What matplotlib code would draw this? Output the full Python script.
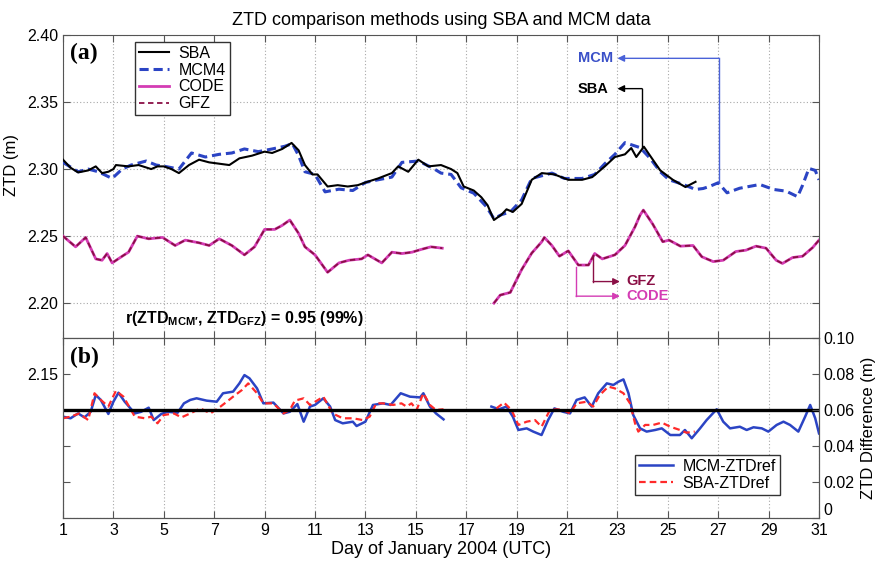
import numpy as np
import matplotlib
matplotlib.use("Agg")
import matplotlib.pyplot as plt

plt.rcParams['font.family'] = ['Liberation Sans', 'DejaVu Sans']
plt.rcParams['mathtext.fontset'] = 'custom'
plt.rcParams['mathtext.rm'] = 'Liberation Sans'
plt.rcParams['mathtext.bf'] = 'Liberation Sans:bold'

nan = np.nan

# ---------------- data ----------------
sba = [(1.0, 2.307), (1.3, 2.301), (1.6, 2.2975), (2.0, 2.299), (2.3, 2.302), (2.55, 2.297),
       (2.8, 2.298), (3.0, 2.300), (3.1, 2.303), (3.6, 2.302), (4.0, 2.303), (4.5, 2.300),
       (4.75, 2.302), (5.0, 2.302), (5.3, 2.300), (5.6, 2.297), (6.0, 2.303), (6.4, 2.307),
       (6.8, 2.305), (7.2, 2.304), (7.6, 2.303), (8.0, 2.308), (8.5, 2.310), (9.0, 2.313),
       (9.3, 2.312), (9.7, 2.315), (10.07, 2.3195), (10.35, 2.314), (10.6, 2.303), (10.9, 2.296),
       (11.1, 2.296), (11.5, 2.287), (11.9, 2.288), (12.3, 2.287), (12.7, 2.288), (13.0, 2.290),
       (13.5, 2.293), (14.05, 2.297), (14.3, 2.302), (14.7, 2.298), (15.1, 2.307), (15.5, 2.302),
       (16.0, 2.303), (16.4, 2.300), (16.65, 2.297), (16.9, 2.287), (17.3, 2.284), (17.6, 2.279),
       (17.85, 2.273), (18.1, 2.262), (18.4, 2.266), (18.6, 2.270), (18.85, 2.268), (19.2, 2.274),
       (19.6, 2.292), (20.0, 2.297), (20.5, 2.296), (21.05, 2.292), (21.6, 2.292), (22.0, 2.294),
       (22.5, 2.302), (22.9, 2.309), (23.3, 2.311), (23.55, 2.3157), (23.75, 2.309), (24.05, 2.3167),
       (24.7, 2.299), (25.2, 2.292), (25.7, 2.2866), (26.1, 2.2905)]

mcm4 = [(1.0, 2.305), (1.6, 2.298), (2.0, 2.300), (2.4, 2.298), (2.95, 2.293), (3.35, 2.300),
        (3.7, 2.303), (4.3, 2.306), (4.7, 2.303), (5.05, 2.302), (5.6, 2.300), (6.1, 2.312),
        (6.65, 2.309), (7.2, 2.311), (7.7, 2.312), (8.2, 2.315), (8.75, 2.313), (9.3, 2.315),
        (9.8, 2.317), (10.1, 2.319), (10.35, 2.310), (10.6, 2.298), (11.0, 2.296), (11.4, 2.283),
        (11.95, 2.285), (12.5, 2.284), (13.0, 2.290), (13.5, 2.292), (14.05, 2.294), (14.45, 2.305),
        (15.1, 2.306), (15.65, 2.301), (16.0, 2.297), (16.4, 2.296), (16.8, 2.286), (17.3, 2.282),
        (17.8, 2.272), (18.1, 2.263), (18.4, 2.266), (18.75, 2.268), (19.2, 2.277), (19.6, 2.293),
        (20.0, 2.295), (20.4, 2.297), (20.9, 2.293), (21.6, 2.293), (22.1, 2.296), (22.5, 2.304),
        (22.9, 2.311), (23.3, 2.3197), (23.9, 2.316), (24.3, 2.308), (24.7, 2.298), (25.05, 2.292),
        (25.6, 2.2886), (26.1, 2.2848), (26.4, 2.2855), (26.65, 2.287), (27.0, 2.2898), (27.35, 2.2823),
        (27.85, 2.2857), (28.65, 2.2885), (29.2, 2.2848), (29.7, 2.2835), (30.15, 2.2794),
        (30.35, 2.288), (30.6, 2.3005), (30.85, 2.299), (31.0, 2.292)]

gfz = [(1.0, 2.250), (1.5, 2.242), (1.9, 2.249), (2.3, 2.233), (2.55, 2.232), (2.75, 2.237),
       (2.95, 2.230), (3.35, 2.235), (3.6, 2.238), (3.95, 2.250), (4.4, 2.248), (4.95, 2.249),
       (5.45, 2.243), (5.85, 2.247), (6.4, 2.245), (6.8, 2.243), (7.2, 2.248), (7.7, 2.243),
       (8.2, 2.236), (8.6, 2.242), (9.0, 2.255), (9.4, 2.255), (9.7, 2.258), (10.0, 2.262),
       (10.35, 2.252), (10.6, 2.242), (11.0, 2.236), (11.5, 2.223), (11.95, 2.230), (12.35, 2.232),
       (12.85, 2.233), (13.1, 2.236), (13.65, 2.230), (14.05, 2.238), (14.45, 2.237), (14.85, 2.238),
       (15.2, 2.240), (15.6, 2.242), (16.05, 2.241), (17.0, nan),
       (18.1, 2.200), (18.35, 2.206), (18.75, 2.208), (19.2, 2.225), (19.6, 2.2373), (20.0, 2.2458),
       (20.1, 2.249), (20.4, 2.243), (20.7, 2.235), (21.05, 2.239), (21.45, 2.2284), (21.85, 2.2284),
       (22.1, 2.237), (22.4, 2.233), (22.9, 2.236), (23.3, 2.243), (23.7, 2.257), (23.9, 2.2657),
       (24.03, 2.2694), (24.4, 2.259), (24.8, 2.2458), (25.05, 2.247), (25.5, 2.2425), (26.0, 2.243),
       (26.35, 2.2346), (26.8, 2.231), (27.2, 2.232), (27.7, 2.2385), (28.1, 2.2395), (28.5, 2.2425),
       (28.9, 2.241), (29.3, 2.232), (29.55, 2.2296), (29.95, 2.234), (30.35, 2.235), (30.75, 2.2415),
       (31.0, 2.247)]

code = [(1.0, 2.250), (1.5, 2.242), (1.9, 2.249), (2.3, 2.233), (2.55, 2.232), (2.75, 2.237),
        (2.95, 2.230), (3.35, 2.235), (3.6, 2.238), (3.95, 2.250), (4.4, 2.248), (4.95, 2.249),
        (5.45, 2.243), (5.85, 2.247), (6.4, 2.245), (6.8, 2.243), (7.2, 2.248), (7.7, 2.243),
        (8.2, 2.236), (8.6, 2.242), (9.0, 2.255), (9.4, 2.255), (9.7, 2.258), (10.0, 2.262),
        (10.35, 2.252), (10.6, 2.242), (11.0, 2.236), (11.5, 2.223), (11.95, 2.230), (12.35, 2.232),
        (12.85, 2.233), (13.1, 2.236), (13.65, 2.230), (14.05, 2.238), (14.45, 2.237), (14.85, 2.238),
        (15.2, 2.240), (15.6, 2.242), (16.05, 2.241), (17.0, nan),
        (18.1, 2.200), (18.35, 2.206), (18.75, 2.208), (19.2, 2.225), (19.6, 2.2373), (20.0, 2.2458),
        (20.1, 2.249), (20.4, 2.243), (20.7, 2.235), (21.05, 2.239), (21.45, 2.2284), (21.85, 2.2284),
        (22.1, 2.237), (22.4, 2.233), (22.9, 2.236), (23.3, 2.243), (23.7, 2.257), (23.9, 2.2657),
        (24.03, 2.2694), (24.4, 2.259), (24.8, 2.2458), (25.05, 2.247), (25.5, 2.2425), (26.0, 2.243),
        (26.35, 2.2346), (26.8, 2.231), (27.2, 2.232), (27.7, 2.2385), (28.1, 2.2395), (28.5, 2.2425),
        (28.9, 2.241), (29.3, 2.232), (29.55, 2.2296), (29.95, 2.234), (30.35, 2.235), (30.75, 2.2415),
        (31.0, 2.247)]

mcm_diff = [(1.0, 0.0563), (1.3, 0.0554), (1.6, 0.0581), (1.85, 0.0559), (2.1, 0.059), (2.3, 0.0683),
            (2.5, 0.0656), (2.8, 0.0578), (3.0, 0.0646), (3.2, 0.0696), (3.45, 0.0646), (3.85, 0.0581),
            (4.1, 0.059), (4.4, 0.0613), (4.6, 0.0544), (4.9, 0.0578), (5.15, 0.059), (5.55, 0.0585),
            (5.8, 0.0637), (6.05, 0.0656), (6.3, 0.0665), (6.7, 0.0652), (7.1, 0.0646), (7.35, 0.0693),
            (7.75, 0.0702), (8.0, 0.0748), (8.2, 0.0794), (8.4, 0.0776), (8.7, 0.072), (8.95, 0.0637),
            (9.35, 0.0641), (9.75, 0.0581), (10.0, 0.059), (10.3, 0.0633), (10.55, 0.0535), (10.8, 0.0619),
            (11.0, 0.0628), (11.33, 0.0665), (11.6, 0.0619), (11.8, 0.0544), (12.1, 0.0526), (12.5, 0.0535),
            (12.65, 0.0511), (13.0, 0.0535), (13.3, 0.0628), (13.7, 0.0637), (14.0, 0.0628), (14.4, 0.0693),
            (14.77, 0.0674), (15.17, 0.067), (15.3, 0.0693), (15.56, 0.0619), (15.8, 0.0581), (16.1, 0.0548),
            (17.0, nan),
            (18.0, 0.0619), (18.3, 0.0604), (18.6, 0.0619), (18.85, 0.0563), (19.07, 0.0489), (19.4, 0.0498),
            (19.66, 0.048), (19.99, 0.0461), (20.25, 0.0544), (20.5, 0.0609), (20.85, 0.059), (21.12, 0.0581),
            (21.38, 0.0656), (21.7, 0.067), (21.98, 0.0619), (22.24, 0.0693), (22.58, 0.0748), (22.84, 0.0739),
            (23.04, 0.0757), (23.24, 0.077), (23.44, 0.0693), (23.63, 0.0572), (23.9, 0.0498), (24.16, 0.048),
            (24.5, 0.0489), (24.76, 0.0498), (25.1, 0.0461), (25.48, 0.0461), (25.68, 0.0489), (25.95, 0.0443),
            (26.28, 0.0498), (26.54, 0.0544), (26.94, 0.0604), (27.2, 0.0535), (27.47, 0.0498), (27.86, 0.0507),
            (28.13, 0.0489), (28.4, 0.0504), (28.73, 0.0498), (28.99, 0.048), (29.32, 0.0517), (29.59, 0.0535),
            (29.85, 0.0517), (30.18, 0.048), (30.45, 0.0563), (30.65, 0.0628), (30.85, 0.0554), (31.0, 0.047)]

sba_diff = [(1.0, 0.0554), (1.3, 0.0563), (1.65, 0.0581), (2.0, 0.0544), (2.25, 0.0693), (2.5, 0.0656),
            (2.8, 0.0619), (3.1, 0.0707), (3.4, 0.0674), (3.85, 0.0563), (4.25, 0.0554), (4.5, 0.0563),
            (4.75, 0.0526), (5.0, 0.0572), (5.4, 0.0581), (5.7, 0.0559), (6.05, 0.0581), (6.45, 0.0609),
            (6.85, 0.0581), (7.25, 0.0619), (7.5, 0.0646), (7.75, 0.0674), (8.1, 0.0711), (8.35, 0.0748),
            (8.7, 0.0693), (8.95, 0.0637), (9.35, 0.0637), (9.75, 0.0581), (10.0, 0.06), (10.2, 0.0652),
            (10.55, 0.0665), (10.8, 0.0628), (11.33, 0.0674), (11.7, 0.0581), (12.1, 0.0554), (12.5, 0.0554),
            (12.9, 0.0544), (13.17, 0.0563), (13.43, 0.0637), (13.7, 0.0637), (14.1, 0.0628), (14.43, 0.0637),
            (14.63, 0.0619), (14.83, 0.0637), (15.03, 0.06), (15.3, 0.0693), (15.56, 0.0628), (15.8, 0.06),
            (16.1, 0.0604), (17.0, nan),
            (18.2, 0.0609), (18.5, 0.0641), (18.8, 0.06), (19.07, 0.0517), (19.4, 0.0535), (19.73, 0.0544),
            (19.99, 0.0507), (20.32, 0.06), (20.58, 0.0604), (20.85, 0.06), (21.12, 0.0581), (21.38, 0.0637),
            (21.78, 0.0646), (22.04, 0.0619), (22.3, 0.0683), (22.64, 0.073), (22.9, 0.072), (23.24, 0.0693),
            (23.5, 0.0637), (23.7, 0.0526), (23.83, 0.048), (24.1, 0.0517), (24.42, 0.0517), (24.76, 0.053),
            (25.1, 0.0507), (25.48, 0.0489), (25.74, 0.0474), (26.07, 0.048)]

mean_diff = 0.06
x_ticks = list(range(1, 32, 2))
top_yticks = [2.20, 2.25, 2.30, 2.35, 2.40]
bot_right_ticks = [0, 0.02, 0.04, 0.06, 0.08, 0.10]
bot_right_labels = ['0', '0.02', '0.04', '0.06', '0.08', '0.10']
bot_left_ticks = [0.02, 0.04, 0.08]
bot_left_labels = ['', '', '2.15']


def xy(pairs):
    a = np.array(pairs, dtype=float)
    return a[:, 0], a[:, 1]


# ---------------- figure ----------------
fig = plt.figure(figsize=(8.79, 5.63), dpi=100)
L, W = 63 / 879, 756 / 879
ax = fig.add_axes([L, 1 - 338 / 563, W, 303 / 563])
axb = fig.add_axes([L, 1 - 518 / 563, W, 180 / 563])

spine_col = '#555555'
grid_kw = dict(color='#a8a8a8', linestyle=(0, (1, 2)), linewidth=0.8)
TS = 11.5
LS = 13

C_BLUE = '#2b44c4'
C_MAG = '#d43cb4'
C_GFZ = '#8a0f45'

# top panel
x, y = xy(code)
ax.plot(x, y, color=C_MAG, lw=2.0, label='CODE', zorder=3)
x, y = xy(gfz)
ax.plot(x, y, color=C_GFZ, lw=1.3, ls=(0, (3, 2)), label='GFZ', zorder=4)
x, y = xy(mcm4)
ax.plot(x, y, color=C_BLUE, lw=2.2, ls=(0, (3, 1.6)), label='MCM4', zorder=5)
x, y = xy(sba)
ax.plot(x, y, color='black', lw=1.5, label='SBA', zorder=6)

ax.set_xlim(1, 31)
ax.set_ylim(2.174, 2.40)
ax.set_xticks(x_ticks)
ax.set_xticklabels([])
ax.set_yticks(top_yticks)
ax.set_yticklabels([f'{v:.2f}' for v in top_yticks], fontsize=TS)
ax.grid(True, **grid_kw)
ax.tick_params(direction='in', top=True, right=True, length=5, color=spine_col)
for s in ax.spines.values():
    s.set_color(spine_col)
ax.set_ylabel('ZTD (m)', fontsize=12)
ax.yaxis.set_label_coords(-0.058, 0.57)
ax.set_title('ZTD comparison methods using SBA and MCM data', fontsize=LS, pad=7)

h, l = ax.get_legend_handles_labels()
order = [3, 2, 0, 1]
leg = ax.legend([h[i] for i in order], [l[i] for i in order], loc='upper left',
                bbox_to_anchor=(0.095, 0.978), fontsize=11.5, frameon=True, fancybox=False,
                edgecolor='#333333', framealpha=1, handlelength=1.9, borderpad=0.25,
                labelspacing=0.12, handletextpad=0.6, borderaxespad=0)
leg.get_frame().set_linewidth(1.0)

ax.text(0.009, 0.94, '(a)', transform=ax.transAxes, fontsize=17, fontweight='bold',
        family='Liberation Serif', va='center', ha='left')
ax.text(8.2, 2.1885, r'r(ZTD$_{\mathbf{MCM\prime}}$, ZTD$_{\mathbf{GFZ}}$) = 0.95 (99%)',
        fontsize=11.5, fontweight='bold', ha='center', va='center')


# annotations (top panel)
def elbow(ax, xs, ys, head, color, lw=1.0):
    ax.plot(xs, ys, color=color, lw=lw, zorder=7)
    ax.annotate('', xy=head, xytext=(xs[-1], ys[-1]),
                arrowprops=dict(arrowstyle='-|>', color=color, lw=lw,
                                mutation_scale=10, shrinkA=0, shrinkB=0), zorder=7)


elbow(ax, [27.03, 27.03], [2.2898, 2.3826], (23.0, 2.3826), '#4a62d8')
ax.text(22.85, 2.3826, 'MCM', color='#3a50c8', fontsize=10.5, fontweight='bold', ha='right', va='center')
elbow(ax, [23.98, 23.98], [2.3167, 2.3600], (23.0, 2.3600), 'black')
ax.text(22.65, 2.3600, 'SBA', color='black', fontsize=10.5, fontweight='bold', ha='right', va='center')
elbow(ax, [22.04, 22.04], [2.2358, 2.2161], (23.1, 2.2161), C_GFZ)
ax.text(23.35, 2.2164, 'GFZ', color=C_GFZ, fontsize=10.5, fontweight='bold', ha='left', va='center')
elbow(ax, [21.36, 21.36], [2.2271, 2.2052], (23.1, 2.2052), C_MAG)
ax.text(23.35, 2.2052, 'CODE', color=C_MAG, fontsize=10.5, fontweight='bold', ha='left', va='center')

# bottom panel
x, y = xy(mcm_diff)
axb.plot(x, y, color=C_BLUE, lw=1.8, label='MCM-ZTDref', zorder=4)
x, y = xy(sba_diff)
axb.plot(x, y, color='#ff2a2a', lw=1.6, ls=(0, (3, 1.8)), label='SBA-ZTDref', zorder=5)
axb.axhline(mean_diff, color='black', lw=2.4, zorder=6)

axb.set_xlim(1, 31)
axb.set_ylim(0, 0.10)
axb.set_xticks(x_ticks)
axb.set_xticklabels([str(v) for v in x_ticks], fontsize=TS)
axb.set_yticks(bot_left_ticks)
axb.set_yticklabels(bot_left_labels, fontsize=TS)
axb.grid(True, **grid_kw)
axb.set_yticks(bot_right_ticks, minor=True)
axb.yaxis.grid(False, which='major')
axb.yaxis.grid(True, which='minor', **grid_kw)
axb.tick_params(which='minor', left=False, length=0)
axb.tick_params(direction='in', top=True, length=5, color=spine_col)
for s in axb.spines.values():
    s.set_color(spine_col)
axb.set_xlabel('Day of January 2004 (UTC)', fontsize=LS, labelpad=2)

axr = axb.twinx()
axr.set_ylim(0, 0.10)
axr.set_yticks(bot_right_ticks)
axr.set_yticklabels(bot_right_labels, fontsize=TS)
axr.tick_params(direction='in', length=5, color=spine_col)
for lab in axr.get_yticklabels()[:1]:
    lab.set_verticalalignment('bottom')
for s in axr.spines.values():
    s.set_color(spine_col)
axr.set_ylabel('ZTD Difference (m)', fontsize=12, labelpad=4)

legb = axb.legend(loc='lower right', bbox_to_anchor=(0.948, 0.128), fontsize=11.5,
                  frameon=True, fancybox=False, edgecolor='#333333', framealpha=1,
                  handlelength=2.1, borderpad=0.25, labelspacing=0.15, handletextpad=0.6,
                  borderaxespad=0)
legb.get_frame().set_linewidth(1.0)
legb.set_zorder(10)

axb.text(0.009, 0.89, '(b)', transform=axb.transAxes, fontsize=17, fontweight='bold',
         family='Liberation Serif', va='center', ha='left')

fig.savefig('out.png', dpi=100)
